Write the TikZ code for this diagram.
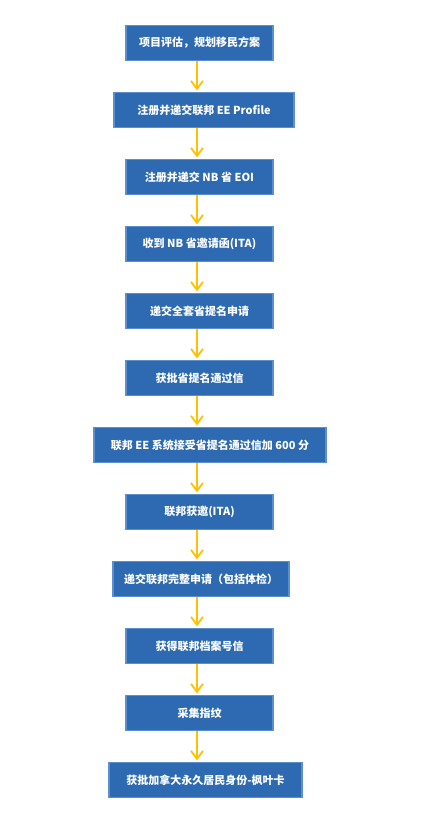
\documentclass[tikz,border=0pt]{standalone}
\usepackage{fontspec}
\setmainfont{Noto Sans CJK SC}
\usepackage{xcolor}
\usepackage{tikz}
\usetikzlibrary{arrows.meta}

\definecolor{boxblue}{RGB}{46,106,178}
\definecolor{boxline}{RGB}{91,143,206}
\definecolor{arrowyellow}{RGB}{255,192,0}

\tikzset{
    stepbox/.style={rectangle, fill=boxblue, draw=boxline, line width=1.2pt,
        text=white, font=\fontsize{11pt}{13pt}\selectfont\bfseries,
        minimum width=147pt, minimum height=35pt, inner sep=0pt},
    flow/.style={draw=arrowyellow, line width=1.8pt, shorten >=1.5pt,
        -{Straight Barb[length=8pt,width=12pt]}}
}

\begin{document}
\begin{tikzpicture}[node distance=67pt]
        \useasboundingbox (0,0) rectangle (435pt,-825pt);
        \coordinate (axis) at (197pt,0);

        \node[stepbox] (1) at (199.5pt,-43pt) {项目评估，规划移民方案};
        \node[stepbox, below of=1, xshift=4.5pt, minimum width=180pt] (2) {注册并递交联邦 EE Profile};
        \node[stepbox, below of=2, xshift=-4.5pt] (3) {注册并递交 NB 省 EOI};
        \node[stepbox, below of=3] (4) {收到 NB 省邀请函(ITA)};
        \node[stepbox, below of=4] (5) {递交全套省提名申请};
        \node[stepbox, below of=5] (6) {获批省提名通过信};
        \node[stepbox, below of=6, xshift=10.5pt, minimum width=232pt] (7) {联邦 EE 系统接受省提名通过信加 600 分};
        \node[stepbox, below of=7, xshift=-10.5pt] (8) {联邦获邀(ITA)};
        \node[stepbox, below of=8, xshift=1.5pt, minimum width=176pt] (9) {递交联邦完整申请（包括体检）};
        \node[stepbox, below of=9, xshift=-1.5pt] (10) {获得联邦档案号信};
        \node[stepbox, below of=10] (11) {采集指纹};
        \node[stepbox, below of=11, xshift=6pt, minimum width=193pt] (12) {获批加拿大永久居民身份-枫叶卡};

        \foreach \a/\b in {1/2,2/3,3/4,4/5,5/6,6/7,7/8,8/9,9/10,10/11,11/12}
            \draw[flow] (\a.south -| axis) -- (\b.north -| axis);
    \end{tikzpicture}
\end{document}
